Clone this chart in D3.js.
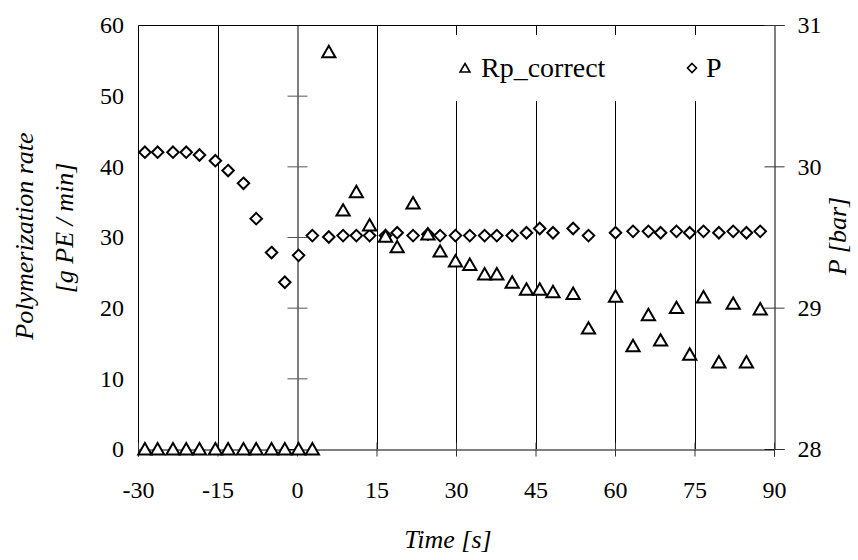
<!DOCTYPE html>
<html>
<head>
<meta charset="utf-8">
<script src="https://cdn.jsdelivr.net/npm/d3@7"></script>
<style>
  @font-face { font-family: "ChartSerif"; font-style: normal; font-weight: 400;
    src: local("Liberation Serif"), local("LiberationSerif"), local("Liberation Serif Regular"), local("Tinos"), local("Times New Roman"); }
  @font-face { font-family: "ChartSerif"; font-style: italic; font-weight: 400;
    src: local("Liberation Serif Italic"), local("LiberationSerif-Italic"), local("Tinos Italic"), local("Times New Roman Italic"); }
  html, body { margin: 0; padding: 0; background: #fff; }
  svg { display: block; }
</style>
</head>
<body>
<svg id="chart" width="858" height="560"></svg>
<script>
// Sampling times [s]
const time = [-28.7, -26.3, -23.4, -20.9, -18.4, -15.4, -13.0, -10.1, -7.7, -4.8, -2.3, 0.3,
  2.9, 6.0, 8.7, 11.2, 13.7, 16.7, 18.9, 21.9, 24.7, 27.0, 29.9, 32.6, 35.4, 37.7, 40.6,
  43.3, 45.8, 48.3, 52.1, 55.0, 60.1, 63.4, 66.3, 68.6, 71.6, 74.1, 76.7, 79.6, 82.3, 84.8, 87.4];

// Polymerization rate [g PE / min]
const rpCorrect = [0, 0, 0, 0, 0, 0, 0, 0, 0, 0, 0, 0,
  0, 56.2, 33.8, 36.4, 31.7, 30.1, 28.6, 34.8, 30.4, 28.0, 26.6, 26.1, 24.75, 24.75, 23.6,
  22.6, 22.6, 22.25, 22.0, 17.1, 21.6, 14.6, 19.0, 15.4, 20.0, 13.4, 21.5, 12.3, 20.6, 12.3, 19.8];

// Reactor pressure [bar]
const pressure = [30.10, 30.10, 30.10, 30.10, 30.08, 30.04, 29.97, 29.88, 29.63, 29.39, 29.18, 29.37,
  29.51, 29.50, 29.51, 29.51, 29.51, 29.51, 29.53, 29.51, 29.52, 29.51, 29.51, 29.51, 29.51, 29.51, 29.51,
  29.53, 29.56, 29.53, 29.56, 29.51, 29.53, 29.54, 29.54, 29.53, 29.54, 29.53, 29.54, 29.53, 29.54, 29.53, 29.54];

const xTicks = [-30, -15, 0, 15, 30, 45, 60, 75, 90];
const xGrid = [-15, 15, 30, 45, 60, 75];
const yLeftTicks = [0, 10, 20, 30, 40, 50, 60];
const yRightTicks = [28, 29, 30, 31];

const seriesNames = ["Rp_correct", "P"];

const FONT = '"Liberation Serif", "ChartSerif", Tinos, "Times New Roman", serif';
const plain = d => String(d);   // hyphen-minus, no decimals
const setText = (sel, size, italic) => sel
  .attr("font-family", null)
  .style("font-family", FONT)
  .style("font-size", size + "px")
  .style("font-style", italic ? "italic" : null)
  .style("fill", "#000");

const svg = d3.select("#chart");
const plotLeft = 138, plotRight = 774, plotTop = 25, plotBottom = 449;

const x = d3.scaleLinear().domain([-30, 90]).range([plotLeft, plotRight]);
const yL = d3.scaleLinear().domain([0, 60]).range([plotBottom, plotTop]);
const yR = d3.scaleLinear().domain([28, 31]).range([plotBottom, plotTop]);

const crisp = v => Math.round(v) + 0.5;

// Vertical gridlines
svg.append("g").selectAll("line").data(xGrid).join("line")
  .attr("x1", d => crisp(x(d))).attr("x2", d => crisp(x(d)))
  .attr("y1", plotTop).attr("y2", plotBottom)
  .attr("stroke", "#000").attr("stroke-width", 1);

// Plot frame: top and left edges
svg.append("line").attr("x1", crisp(plotLeft)).attr("x2", crisp(plotRight))
  .attr("y1", crisp(plotTop)).attr("y2", crisp(plotTop)).attr("stroke", "#000");
svg.append("line").attr("x1", crisp(plotLeft)).attr("x2", crisp(plotLeft))
  .attr("y1", crisp(plotTop)).attr("y2", crisp(plotBottom)).attr("stroke", "#000");

// Primary value axis crossing at t = 0 (crossing tick marks)
const ax0 = svg.append("g").attr("transform", `translate(${crisp(x(0))},0)`);
ax0.call(d3.axisLeft(yL).tickValues(yLeftTicks.slice(1, -1)).tickSize(10).tickFormat(""));
ax0.append("g").call(d3.axisRight(yL).tickValues(yLeftTicks.slice(1, -1)).tickSize(10).tickFormat(""))
  .select(".domain").remove();
ax0.selectAll(".domain").attr("stroke", "#000");
ax0.selectAll(".tick line").attr("stroke", "#555");

// Left value labels
const axL = svg.append("g").attr("transform", `translate(${plotLeft},0)`)
  .call(d3.axisLeft(yL).tickValues(yLeftTicks).tickSize(0).tickPadding(14).tickFormat(plain));
axL.select(".domain").remove();

// Secondary axis (pressure) on the right
const axR = svg.append("g").attr("transform", `translate(${crisp(plotRight)},0)`);
axR.call(d3.axisRight(yR).tickValues(yRightTicks).tickSize(10).tickPadding(13).tickFormat(plain));
axR.append("g").call(d3.axisLeft(yR).tickValues(yRightTicks).tickSize(10).tickFormat(""))
  .select(".domain").remove();
axR.selectAll(".domain").attr("stroke", "#000");
axR.selectAll(".tick line").attr("stroke", "#333");

// Time axis with crossing ticks
const axX = svg.append("g").attr("transform", `translate(0,${crisp(plotBottom)})`);
axX.call(d3.axisBottom(x).tickValues(xTicks).tickSize(7).tickPadding(24).tickFormat(plain));
axX.append("g").call(d3.axisTop(x).tickValues(xTicks).tickSize(7).tickFormat(""))
  .select(".domain").remove();
axX.selectAll(".domain").attr("stroke", "#000");
axX.selectAll(".tick line").attr("stroke", "#333");

[axL, axR, axX, ax0].forEach(g => {
  g.attr("font-family", null).attr("font-size", null);
  setText(g.selectAll("text"), 24, false);
});

// Marker shapes
const triPath = s => `M0,${-s * 0.5}L${s * 0.55},${s * 0.45}L${-s * 0.55},${s * 0.45}Z`;
const diaPath = s => `M0,${-s / 2}L${s / 2},0L0,${s / 2}L${-s / 2},0Z`;

// Legend panel
const lg = svg.append("g");
lg.append("rect").attr("x", 445).attr("y", 35).attr("width", 320).attr("height", 66).attr("fill", "#fff");
lg.append("path").attr("d", triPath(9)).attr("transform", "translate(465,68)")
  .attr("fill", "none").attr("stroke", "#000").attr("stroke-width", 1.6);
setText(lg.append("text").attr("x", 481).attr("y", 77), 28, false).text(seriesNames[0]);
lg.append("path").attr("d", diaPath(9)).attr("transform", "translate(692,68)")
  .attr("fill", "none").attr("stroke", "#000").attr("stroke-width", 1.6);
setText(lg.append("text").attr("x", 706).attr("y", 77), 28, false).text(seriesNames[1]);

// Pressure series (diamonds, right axis)
svg.append("g").selectAll("path").data(time.map((t, i) => [t, pressure[i]])).join("path")
  .attr("d", diaPath(11.5))
  .attr("transform", d => `translate(${x(d[0])},${yR(d[1])})`)
  .attr("fill", "#fff").attr("stroke", "#000").attr("stroke-width", 2);

// Rp_correct series (triangles, left axis)
svg.append("g").selectAll("path").data(time.map((t, i) => [t, rpCorrect[i]])).join("path")
  .attr("d", triPath(12))
  .attr("transform", d => `translate(${x(d[0])},${yL(d[1])})`)
  .attr("fill", "#fff").attr("stroke", "#000").attr("stroke-width", 2);

// Axis titles
const titles = svg.append("g").attr("text-anchor", "middle");
setText(titles.append("text").attr("x", (plotLeft + plotRight) / 2 - 8).attr("y", 548), 26, true)
  .text("Time [s]");
setText(titles.append("text").attr("transform", "translate(33,236) rotate(-90)"), 26, true)
  .text("Polymerization rate");
setText(titles.append("text").attr("transform", "translate(73,228) rotate(-90)"), 26, true)
  .text("[g PE / min]");
setText(titles.append("text").attr("transform", "translate(846,236) rotate(-90)"), 26, true)
  .text("P [bar]");
</script>
</body>
</html>
